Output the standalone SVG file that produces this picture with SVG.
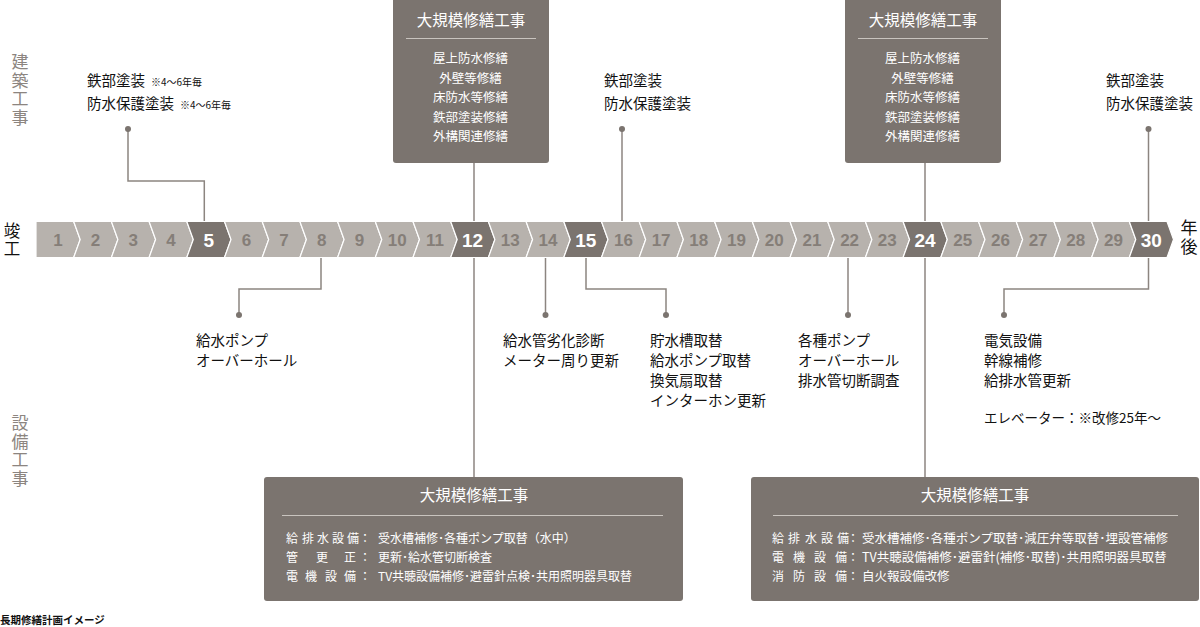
<svg xmlns="http://www.w3.org/2000/svg" xmlns:xlink="http://www.w3.org/1999/xlink" width="1200" height="627" viewBox="0 0 1200 627">
<style>
  .jp{font-family:'Noto Sans CJK JP','Noto Sans',sans-serif;}
  .lbl{font-size:14.5px;fill:#111;}
  .sm{font-size:10px;}
  .vt{writing-mode:vertical-rl;text-orientation:upright;}
  .side{font-size:17px;fill:#8c8580;letter-spacing:1.5px;}
  .edge{font-size:17px;fill:#111;letter-spacing:1.5px;}
  .box{fill:#7b746f;}
  .bt{font-size:15.5px;fill:#fff;text-anchor:middle;}
  .bi{font-size:12.5px;fill:#fff;text-anchor:middle;}
  .br{font-size:12px;fill:#fff;}
  .sep{stroke:#c9c4bf;stroke-width:1;}
  .lt{fill:#b7b2ad;stroke:#fff;stroke-width:1.2;}
  .dk{fill:#7b746f;stroke:#fff;stroke-width:1.2;}
  .n{font-family:'Liberation Sans',Arial,sans-serif;font-weight:bold;font-size:17px;fill:#857e78;text-anchor:middle;}
  .nd{font-family:'Liberation Sans',Arial,sans-serif;font-weight:bold;font-size:19px;fill:#fff;text-anchor:middle;}
  .con{fill:none;stroke:#8c8580;stroke-width:1.5;}
  .dot{fill:#7b746f;}
</style>
<defs>
  <polygon id="chev" points="0,0 37.7,0 44.2,18 37.7,36 0,36 6.5,18"/>
  <polygon id="chev0" points="0,0 37.7,0 44.2,18 37.7,36 0,36"/>
</defs>
<rect width="1200" height="627" fill="#fff"/>

<!-- side labels -->
<g id="side-kenchiku">
  <text class="jp side vt" x="20" y="53.5">建築工事</text>
</g>
<g id="side-setsubi">
  <text class="jp side vt" x="20" y="414.5">設備工事</text>
</g>
<g id="label-shunko">
  <text class="jp edge vt" x="12" y="222" style="font-size:16.5px;letter-spacing:1.5px">竣工</text>
</g>
<g id="label-nengo">
  <text class="jp edge vt" x="1189" y="219.5" style="letter-spacing:2px">年後</text>
</g>

<!-- connectors -->
<g id="connectors">
  <polyline class="con" points="128,129 128,181 204.3,181 204.3,221.5"/>
  <polyline class="con" points="474,163 474,221.5"/>
  <polyline class="con" points="622,129 622,221.5"/>
  <polyline class="con" points="925,163 925,221.5"/>
  <polyline class="con" points="1148.5,129 1148.5,221.5"/>
  <polyline class="con" points="321,257.5 321,289 239,289 239,315"/>
  <polyline class="con" points="474,257.5 474,477"/>
  <polyline class="con" points="545.5,257.5 545.5,315"/>
  <polyline class="con" points="586,257.5 586,289 666,289 666,315"/>
  <polyline class="con" points="848,257.5 848,315"/>
  <polyline class="con" points="925,257.5 925,477"/>
  <polyline class="con" points="1148.5,257.5 1148.5,289 1004,289 1004,315"/>
  <circle class="dot" cx="128" cy="129" r="3"/>
  <circle class="dot" cx="622" cy="129" r="3"/>
  <circle class="dot" cx="1148.5" cy="129" r="3"/>
  <circle class="dot" cx="239" cy="315" r="3"/>
  <circle class="dot" cx="545.5" cy="315" r="3"/>
  <circle class="dot" cx="666" cy="315" r="3"/>
  <circle class="dot" cx="848" cy="315" r="3"/>
  <circle class="dot" cx="1004" cy="315" r="3"/>
</g>

<!-- timeline -->
<g id="timeline">
  <use href="#chev0" x="36" y="221.5" class="lt"/>
  <use href="#chev" x="73.7" y="221.5" class="lt"/>
  <use href="#chev" x="111.4" y="221.5" class="lt"/>
  <use href="#chev" x="149.1" y="221.5" class="lt"/>
  <use href="#chev" x="186.8" y="221.5" class="dk"/>
  <use href="#chev" x="224.5" y="221.5" class="lt"/>
  <use href="#chev" x="262.2" y="221.5" class="lt"/>
  <use href="#chev" x="299.9" y="221.5" class="lt"/>
  <use href="#chev" x="337.6" y="221.5" class="lt"/>
  <use href="#chev" x="375.3" y="221.5" class="lt"/>
  <use href="#chev" x="413" y="221.5" class="lt"/>
  <use href="#chev" x="450.7" y="221.5" class="dk"/>
  <use href="#chev" x="488.4" y="221.5" class="lt"/>
  <use href="#chev" x="526.1" y="221.5" class="lt"/>
  <use href="#chev" x="563.8" y="221.5" class="dk"/>
  <use href="#chev" x="601.5" y="221.5" class="lt"/>
  <use href="#chev" x="639.2" y="221.5" class="lt"/>
  <use href="#chev" x="676.9" y="221.5" class="lt"/>
  <use href="#chev" x="714.6" y="221.5" class="lt"/>
  <use href="#chev" x="752.3" y="221.5" class="lt"/>
  <use href="#chev" x="790" y="221.5" class="lt"/>
  <use href="#chev" x="827.7" y="221.5" class="lt"/>
  <use href="#chev" x="865.4" y="221.5" class="lt"/>
  <use href="#chev" x="903.1" y="221.5" class="dk"/>
  <use href="#chev" x="940.8" y="221.5" class="lt"/>
  <use href="#chev" x="978.5" y="221.5" class="lt"/>
  <use href="#chev" x="1016.2" y="221.5" class="lt"/>
  <use href="#chev" x="1053.9" y="221.5" class="lt"/>
  <use href="#chev" x="1091.6" y="221.5" class="lt"/>
  <use href="#chev" x="1129.3" y="221.5" class="dk"/>
  <text class="n" x="57.9" y="246">1</text>
  <text class="n" x="95.6" y="246">2</text>
  <text class="n" x="133.3" y="246">3</text>
  <text class="n" x="171" y="246">4</text>
  <text class="nd" x="208.7" y="246.5">5</text>
  <text class="n" x="246.4" y="246">6</text>
  <text class="n" x="284.1" y="246">7</text>
  <text class="n" x="321.8" y="246">8</text>
  <text class="n" x="359.5" y="246">9</text>
  <text class="n" x="397.2" y="246">10</text>
  <text class="n" x="434.9" y="246">11</text>
  <text class="nd" x="472.6" y="246.5">12</text>
  <text class="n" x="510.3" y="246">13</text>
  <text class="n" x="548" y="246">14</text>
  <text class="nd" x="585.7" y="246.5">15</text>
  <text class="n" x="623.4" y="246">16</text>
  <text class="n" x="661.1" y="246">17</text>
  <text class="n" x="698.8" y="246">18</text>
  <text class="n" x="736.5" y="246">19</text>
  <text class="n" x="774.2" y="246">20</text>
  <text class="n" x="811.9" y="246">21</text>
  <text class="n" x="849.6" y="246">22</text>
  <text class="n" x="887.3" y="246">23</text>
  <text class="nd" x="925" y="246.5">24</text>
  <text class="n" x="962.7" y="246">25</text>
  <text class="n" x="1000.4" y="246">26</text>
  <text class="n" x="1038.1" y="246">27</text>
  <text class="n" x="1075.8" y="246">28</text>
  <text class="n" x="1113.5" y="246">29</text>
  <text class="nd" x="1151.2" y="246.5">30</text>
</g>

<!-- top labels -->
<g id="top-y5" class="jp lbl">
  <text x="87" y="86">鉄部塗装<tspan class="sm" dx="6">※4～6年毎</tspan></text>
  <text x="87" y="109">防水保護塗装<tspan class="sm" dx="6">※4～6年毎</tspan></text>
</g>
<g id="top-y12-box">
  <path class="box" d="M393,-2 H549 V160 a3,3 0 0 1 -3,3 H396 a3,3 0 0 1 -3,-3 Z"/>
  <text class="jp bt" x="471" y="25.5">大規模修繕工事</text>
  <line class="sep" x1="406" y1="38.5" x2="536" y2="38.5"/>
  <text class="jp bi" x="470.5" y="62.5">屋上防水修繕</text>
  <text class="jp bi" x="470.5" y="82.5">外壁等修繕</text>
  <text class="jp bi" x="470.5" y="102">床防水等修繕</text>
  <text class="jp bi" x="470.5" y="121.5">鉄部塗装修繕</text>
  <text class="jp bi" x="470.5" y="141">外構関連修繕</text>
</g>
<g id="top-y16" class="jp lbl">
  <text x="604" y="86">鉄部塗装</text>
  <text x="604" y="109">防水保護塗装</text>
</g>
<g id="top-y24-box">
  <path class="box" d="M845,-2 H1001 V160 a3,3 0 0 1 -3,3 H848 a3,3 0 0 1 -3,-3 Z"/>
  <text class="jp bt" x="923" y="25.5">大規模修繕工事</text>
  <line class="sep" x1="858" y1="38.5" x2="988" y2="38.5"/>
  <text class="jp bi" x="922.5" y="62.5">屋上防水修繕</text>
  <text class="jp bi" x="922.5" y="82.5">外壁等修繕</text>
  <text class="jp bi" x="922.5" y="102">床防水等修繕</text>
  <text class="jp bi" x="922.5" y="121.5">鉄部塗装修繕</text>
  <text class="jp bi" x="922.5" y="141">外構関連修繕</text>
</g>
<g id="top-y30" class="jp lbl">
  <text x="1106" y="86">鉄部塗装</text>
  <text x="1106" y="109">防水保護塗装</text>
</g>

<!-- bottom labels -->
<g id="bot-y8" class="jp lbl">
  <text x="196" y="346">給水ポンプ</text>
  <text x="196" y="366">オーバーホール</text>
</g>
<g id="bot-y14" class="jp lbl">
  <text x="503" y="346">給水管劣化診断</text>
  <text x="503" y="366">メーター周り更新</text>
</g>
<g id="bot-y15" class="jp lbl">
  <text x="650" y="346">貯水槽取替</text>
  <text x="650" y="366">給水ポンプ取替</text>
  <text x="650" y="386">換気扇取替</text>
  <text x="650" y="406">インターホン更新</text>
</g>
<g id="bot-y22" class="jp lbl">
  <text x="798" y="346">各種ポンプ</text>
  <text x="798" y="366">オーバーホール</text>
  <text x="798" y="386">排水管切断調査</text>
</g>
<g id="bot-y30" class="jp lbl">
  <text x="984" y="346">電気設備</text>
  <text x="984" y="366">幹線補修</text>
  <text x="984" y="386">給排水管更新</text>
  <text x="984" y="423" font-size="13.5">エレベーター：※改修25年～</text>
</g>

<g id="bot-y12-box">
  <rect class="box" x="264" y="477" width="419" height="124" rx="3"/>
  <text class="jp bt" x="474" y="500.5">大規模修繕工事</text>
  <line class="sep" x1="282" y1="515.5" x2="663" y2="515.5"/>
  <text class="jp br" y="542.5"><tspan x="286 302 317 332 347">給排水設備</tspan><tspan x="359">：</tspan><tspan x="378">受水槽補修･各種ポンプ取替（水中）</tspan></text>
  <text class="jp br" y="561.5"><tspan x="286 316 344">管更正</tspan><tspan x="359">：</tspan><tspan x="378">更新･給水管切断検査</tspan></text>
  <text class="jp br" y="580.5"><tspan x="286 305 325 344">電機設備</tspan><tspan x="359">：</tspan><tspan x="378">TV共聴設備補修･避雷針点検･共用照明器具取替</tspan></text>
</g>
<g id="bot-y24-box">
  <rect class="box" x="751" y="477" width="448" height="124" rx="3"/>
  <text class="jp bt" x="975" y="500.5">大規模修繕工事</text>
  <line class="sep" x1="773" y1="515.5" x2="1178" y2="515.5"/>
  <text class="jp br" y="542.5"><tspan x="772 788 805 821 837">給排水設備</tspan><tspan x="847">：</tspan><tspan x="862" font-size="12.5">受水槽補修･各種ポンプ取替･減圧弁等取替･埋設管補修</tspan></text>
  <text class="jp br" y="561.5"><tspan x="772 793 814 835">電機設備</tspan><tspan x="847">：</tspan><tspan x="862" font-size="12.5">TV共聴設備補修･避雷針(補修･取替)･共用照明器具取替</tspan></text>
  <text class="jp br" y="580.5"><tspan x="772 793 814 835">消防設備</tspan><tspan x="847">：</tspan><tspan x="862" font-size="12.5">自火報設備改修</tspan></text>
</g>

<g id="caption">
  <text class="jp" x="0" y="623.5" font-size="10.5" font-weight="bold" fill="#111">長期修繕計画イメージ</text>
</g>
</svg>
